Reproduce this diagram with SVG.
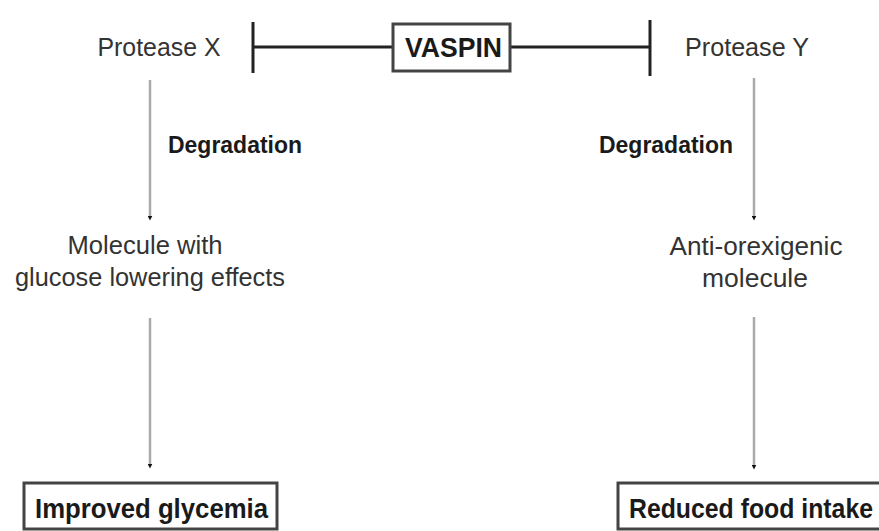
<svg xmlns="http://www.w3.org/2000/svg" width="879" height="531" viewBox="0 0 879 531">
<defs>
<style>
.t{font-family:"Liberation Sans",Arial,sans-serif;font-size:25px;fill:#333;text-anchor:middle}
.b{font-family:"Liberation Sans",Arial,sans-serif;font-weight:bold;fill:#1a1a1a}
.box{fill:#fff;stroke:#444;stroke-width:3}
.inh{stroke:#222;stroke-width:3;fill:none}
.arr{stroke:#aaa;stroke-width:2.5;fill:none;marker-end:url(#ah)}
</style>
<marker id="ah" markerWidth="5" markerHeight="5" refX="2.5" refY="2.5" orient="auto" markerUnits="userSpaceOnUse">
<path d="M0,0 L5,2.5 L0,5 Z" fill="#111"/>
</marker>
</defs>
<rect width="879" height="531" fill="#fff"/>
<g id="connectors">
<line class="inh" x1="253" y1="47" x2="392" y2="47"/>
<line class="inh" x1="253" y1="22" x2="253" y2="73"/>
<line class="inh" x1="511" y1="47" x2="650" y2="47"/>
<line class="inh" x1="650" y1="20" x2="650" y2="76"/>
<line class="arr" x1="150" y1="80" x2="150" y2="218"/>
<line class="arr" x1="754" y1="78" x2="754" y2="218"/>
<line class="arr" x1="150" y1="318" x2="150" y2="466"/>
<line class="arr" x1="754" y1="317" x2="754" y2="467"/>
<text class="b" x="168" y="153" font-size="24" textLength="134" lengthAdjust="spacingAndGlyphs">Degradation</text>
<text class="b" x="599" y="153" font-size="24" textLength="134" lengthAdjust="spacingAndGlyphs">Degradation</text>
</g>
<g id="proteaseX"><text class="t" x="159" y="56" textLength="123" lengthAdjust="spacingAndGlyphs">Protease X</text></g>
<g id="vaspin">
<rect class="box" x="393" y="24" width="117" height="47"/>
<text class="b" x="453.5" y="57" font-size="28" text-anchor="middle" textLength="97" lengthAdjust="spacingAndGlyphs">VASPIN</text>
</g>
<g id="proteaseY"><text class="t" x="747" y="56" textLength="124" lengthAdjust="spacingAndGlyphs">Protease Y</text></g>
<g id="moleculeX">
<text class="t" x="145" y="254" textLength="155" lengthAdjust="spacingAndGlyphs">Molecule with</text>
<text class="t" x="150" y="286" textLength="270" lengthAdjust="spacingAndGlyphs">glucose lowering effects</text>
</g>
<g id="moleculeY">
<text class="t" x="756" y="255" textLength="173" lengthAdjust="spacingAndGlyphs">Anti-orexigenic</text>
<text class="t" x="755" y="287" textLength="106" lengthAdjust="spacingAndGlyphs">molecule</text>
</g>
<g id="glycemia">
<rect class="box" x="24" y="483" width="253" height="46"/>
<text class="b" x="35" y="518" font-size="28" textLength="233" lengthAdjust="spacingAndGlyphs">Improved glycemia</text>
</g>
<g id="food">
<rect class="box" x="618" y="483" width="270" height="46"/>
<text class="b" x="629" y="518" font-size="28" textLength="244" lengthAdjust="spacingAndGlyphs">Reduced food intake</text>
</g>
</svg>
